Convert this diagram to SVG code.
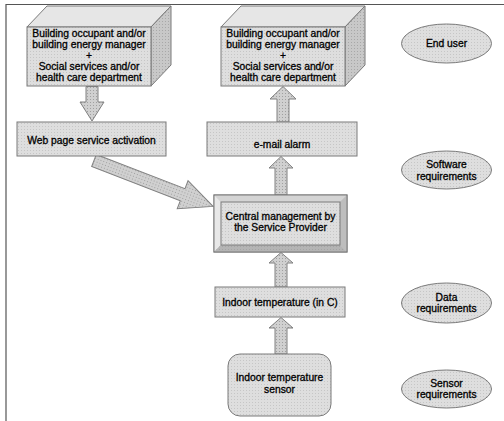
<svg xmlns="http://www.w3.org/2000/svg" width="504" height="421" viewBox="0 0 504 421">
<defs>
<pattern id="dots" width="3" height="3" patternUnits="userSpaceOnUse"><rect width="3" height="3" fill="#dedede"/><rect width="1" height="1" fill="#c6c6c6"/></pattern>
<pattern id="dotsDark" width="3" height="3" patternUnits="userSpaceOnUse"><rect width="3" height="3" fill="#c8c8c8"/><rect width="1" height="1" fill="#a8a8a8"/></pattern>
<pattern id="dotsArrow" width="3" height="3" patternUnits="userSpaceOnUse"><rect width="3" height="3" fill="#d0d0d0"/><rect width="1" height="1" fill="#a0a0a0"/></pattern>
<style>
.box{fill:url(#dots);stroke:#7a7a7a;stroke-width:1}
.top{fill:#e6e6e6;stroke:#7a7a7a;stroke-width:1}
.side{fill:url(#dotsDark);stroke:#7a7a7a;stroke-width:1}
.arrow{fill:url(#dotsArrow);stroke:#808080;stroke-width:1}
text{font-family:"Liberation Sans",Arial,sans-serif;font-size:10.3px;fill:#000;stroke:#000;stroke-width:0.3;text-anchor:middle}
</style>
</defs>
<rect x="0" y="0" width="504" height="421" fill="#fff"/>
<path d="M6 421 V4.5 H504" fill="none" stroke="#555" stroke-width="1.2"/>

<g id="connectors">
<polygon class="arrow" points="86,86.5 98,86.5 98,102 104,102 92,121 80,102 86,102"/>
<polygon class="arrow" points="283,86.5 296,99 289,99 289,122 277,122 277,99 270,99"/>
<polygon class="arrow" points="281,156.5 293,168 287,168 287,195 275,195 275,168 269,168"/>
<polygon class="arrow" points="281,252.5 293,263 287,263 287,287 275,287 275,263 269,263"/>
<polygon class="arrow" points="281,317.5 293,328 287,328 287,354 275,354 275,328 269,328"/>
<polygon class="arrow" transform="translate(94,160.5) rotate(21.1)" points="0,-6.5 95,-6.5 95,-15 127.6,0 95,15 95,6.5 0,6.5"/>
</g>

<g id="cube-left">
<polygon class="top" points="27,27 47,6 171,6 151,27"/>
<polygon class="side" points="151,27 171,6 171,65 151,86"/>
<rect class="box" x="27" y="27" width="124" height="59"/>
<text x="89" y="36.5">Building occupant and/or</text>
<text x="89" y="47.5">building energy manager</text>
<text x="89" y="58.5">+</text>
<text x="89" y="70">Social services and/or</text>
<text x="89" y="81">health care department</text>
</g>

<g id="cube-right">
<polygon class="top" points="221,27 241,6 365,6 345,27"/>
<polygon class="side" points="345,27 365,6 365,65 345,86"/>
<rect class="box" x="221" y="27" width="124" height="59"/>
<text x="283" y="36.5">Building occupant and/or</text>
<text x="283" y="47.5">building energy manager</text>
<text x="283" y="58.5">+</text>
<text x="283" y="70">Social services and/or</text>
<text x="283" y="81">health care department</text>
</g>

<g id="web-page">
<rect class="box" x="17" y="122" width="149" height="34"/>
<text x="91.5" y="144">Web page service activation</text>
</g>

<g id="email">
<rect class="box" x="207" y="122" width="150" height="34"/>
<text x="282" y="148">e-mail alarm</text>
</g>

<g id="central">
<rect x="214" y="195" width="133" height="57" fill="#c8c8c8" stroke="#7a7a7a"/>
<polygon points="214,195 347,195 340,202 221,202" fill="#d4d4d4"/>
<polygon points="214,195 221,202 221,245 214,252" fill="#e8e8e8"/>
<polygon points="347,195 347,252 340,245 340,202" fill="#bdbdbd"/>
<polygon points="214,252 221,245 340,245 347,252" fill="url(#dotsDark)"/>
<polygon points="214,252 221,245 340,245 347,252" fill="#a0a0a0" opacity="0.5"/>
<rect class="box" x="221" y="202" width="119" height="43"/>
<rect x="214" y="195" width="133" height="57" fill="none" stroke="#7a7a7a"/>
<text x="280.5" y="219.5">Central management by</text>
<text x="280.5" y="231">the Service Provider</text>
</g>

<g id="indoor-temp">
<rect class="box" x="215" y="287" width="130" height="30"/>
<text x="280" y="306">Indoor temperature (in C)</text>
</g>

<g id="sensor">
<rect class="box" x="228" y="354" width="103" height="62" rx="12" ry="12"/>
<text x="279.5" y="381">Indoor temperature</text>
<text x="279.5" y="393">sensor</text>
</g>

<g id="end-user">
<ellipse class="box" cx="446.5" cy="43.5" rx="45" ry="19.5"/>
<text x="446.5" y="47">End user</text>
</g>

<g id="software-req">
<ellipse class="box" cx="446.5" cy="170" rx="45" ry="19"/>
<text x="446.5" y="168">Software</text>
<text x="446.5" y="179.5">requirements</text>
</g>

<g id="data-req">
<ellipse class="box" cx="446.5" cy="303" rx="45" ry="20"/>
<text x="446.5" y="300.5">Data</text>
<text x="446.5" y="312">requirements</text>
</g>

<g id="sensor-req">
<ellipse class="box" cx="446.5" cy="389" rx="45" ry="19"/>
<text x="446.5" y="386.5">Sensor</text>
<text x="446.5" y="398">requirements</text>
</g>
</svg>
